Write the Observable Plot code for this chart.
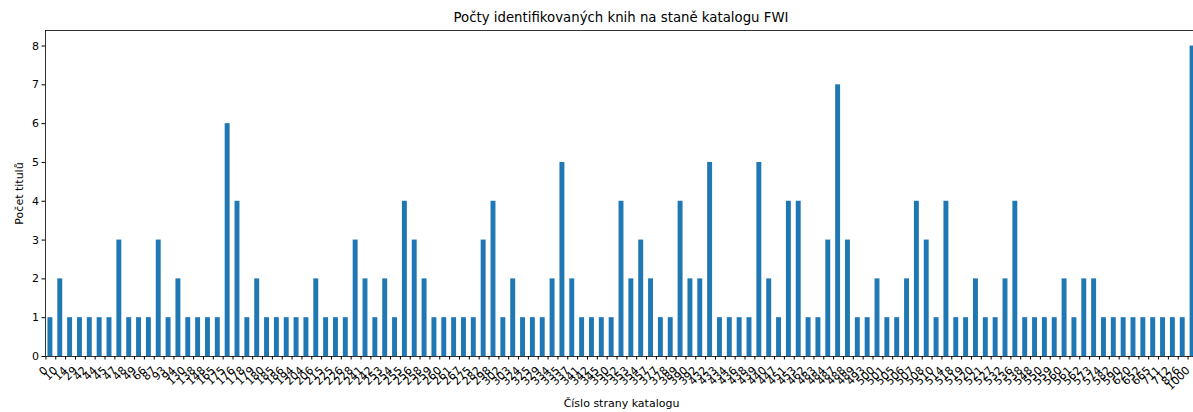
<!DOCTYPE html>
<html>
<head>
<meta charset="utf-8">
<script src="https://cdn.jsdelivr.net/npm/d3@7"></script>
<script src="https://cdn.jsdelivr.net/npm/@observablehq/plot@0.6"></script>
<style>
  html, body { margin: 0; padding: 0; background: #fff; overflow: hidden; }
  #title { box-sizing: border-box; height: 29px; width: 1152px; margin-left: 45px; padding-top: 10px;
           text-align: center; font-family: "DejaVu Sans", sans-serif; font-size: 13.3px; line-height: 16px; color: #000; }
  #chart svg { display: block; overflow: hidden; }
</style>
</head>
<body>
<div id="title">Počty identifikovaných knih na staně katalogu FWI</div>
<div id="chart"></div>
<script>
const pages = ["0","10","14","29","42","44","45","47","48","49","66","87","93","94","130","138","148","165","175","176",
  "178","179","180","185","186","194","204","206","215","225","226","228","241","242","253","254","255","256","258","259",
  "260","261","267","275","282","298","302","303","324","325","329","334","335","337","341","342","345","350","352","353",
  "354","357","377","378","389","390","392","432","433","434","436","438","439","440","447","451","453","462","483","484",
  "487","488","489","493","500","501","505","506","507","508","510","514","518","519","520","521","527","532","536","538",
  "548","550","559","560","561","562","573","574","582","590","620","652","665","711","712","826","1000"];

const counts = [1,2,1,1,1,1,1,3,1,1,1,3,1,2,1,1,1,1,6,4,1,2,1,1,1,1,1,2,1,1,
  1,3,2,1,2,1,4,3,2,1,1,1,1,1,3,4,1,2,1,1,1,2,5,2,1,1,1,1,4,2,
  3,2,1,1,4,2,2,5,1,1,1,1,5,2,1,4,4,1,1,3,7,3,1,1,2,1,1,2,4,3,
  1,4,1,1,2,1,1,2,4,1,1,1,1,2,1,2,2,1,1,1,1,1,1,1,1,1,8];

const yTicks = [0,1,2,3,4,5,6,7,8];

const data = pages.map((p, i) => ({page: p, count: counts[i]}));

const chart = Plot.plot({
  width: 1193,
  height: 383,
  marginLeft: 45,
  marginRight: -4,
  marginTop: 1,
  marginBottom: 56,
  style: {fontFamily: "DejaVu Sans, sans-serif", fontSize: "11px", color: "#000", background: "#fff"},
  x: {type: "band", domain: pages, paddingInner: 0.5, paddingOuter: 0.25, align: 0.5},
  y: {domain: [0, 8.4]},
  marks: [
    Plot.barY(data, {x: "page", y: "count", fill: "#1f77b4"}),
    Plot.axisY({ticks: yTicks, tickSize: 3.5, tickPadding: 3, tickFormat: d3.format("d"),
      label: "Počet titulů", labelAnchor: "center", labelArrow: "none", labelOffset: 30, stroke: "#000", strokeOpacity: 1}),
    Plot.axisX({tickRotate: -45, tickSize: 3.5, tickPadding: 8.5, dx: -4.5,
      label: "Číslo strany katalogu", labelAnchor: "center", labelArrow: "none", labelOffset: 50, stroke: "#000", strokeOpacity: 1}),
    Plot.frame({stroke: "#000", strokeWidth: 0.8})
  ]
});
document.getElementById("chart").appendChild(chart);
</script>
</body>
</html>
